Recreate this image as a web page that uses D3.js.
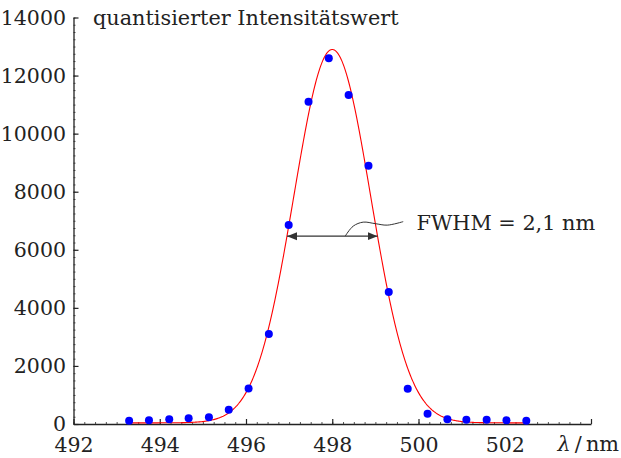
<!DOCTYPE html>
<html lang="de">
<head>
  <meta charset="UTF-8">
  <title>Spektrallinie</title>
  <script src="https://d3js.org/d3.v7.min.js"></script>
  <style>
    body { margin: 0; background: #fff; }
    svg text { font-family: "DejaVu Serif", serif; fill: #222; }
  </style>
</head>
<body>
  <div id="chart"></div>
  <script>
    // measured points (wavelength in nm, quantised intensity)
    const wavelengths = [493.29, 493.75, 494.22, 494.67, 495.14, 495.60, 496.06, 496.53, 496.99, 497.45, 497.92,
                         498.38, 498.84, 499.31, 499.75, 500.21, 500.67, 501.11, 501.58, 502.04, 502.50];
    const intensities = [110, 125, 160, 195, 230, 490, 1220, 3100, 6850, 11100, 12600,
                         11330, 8890, 4550, 1210, 355, 160, 150, 150, 125, 115];

    // gaussian fit
    const fitCenter = 498.0;
    const fitAmp = 12860;
    const fitFwhm = 2.1;
    const fitOffset = 40;

    const xTicks = [492, 494, 496, 498, 500, 502, 504];
    const yTicks = [0, 2000, 4000, 6000, 8000, 10000, 12000, 14000];

    const width = 621, height = 458;

    const x = d3.scaleLinear().domain([492, 504]).range([73.5, 591]);
    const y = d3.scaleLinear().domain([0, 14000]).range([424, 17.5]);

    const svg = d3.select("#chart").append("svg")
        .attr("width", width)
        .attr("height", height);

    // minor ticks
    svg.append("g")
        .attr("transform", `translate(0,${y(0)})`)
        .call(d3.axisBottom(x).tickValues(d3.range(492, 504.01, 0.25)).tickSize(-2).tickFormat(""))
        .call(g => g.select(".domain").remove())
        .call(g => g.selectAll("line").attr("stroke", "#555"));
    svg.append("g")
        .attr("transform", `translate(${x(492)},0)`)
        .call(d3.axisLeft(y).tickValues(d3.range(0, 14001, 250)).tickSize(-2).tickFormat(""))
        .call(g => g.select(".domain").remove())
        .call(g => g.selectAll("line").attr("stroke", "#555"));

    // x axis
    svg.append("g")
        .attr("transform", `translate(0,${y(0)})`)
        .call(d3.axisBottom(x).tickValues(xTicks).tickSizeInner(-5).tickSizeOuter(0).tickPadding(13)
            .tickFormat(d => d === 504 ? "" : d))
        .call(g => g.select(".domain").attr("stroke", "#222").attr("stroke-width", 1.3))
        .call(g => g.selectAll("line").attr("stroke", "#222").attr("stroke-width", 1.2))
        .call(g => g.selectAll("text").attr("font-size", 20.5).attr("font-family", "DejaVu Serif").attr("fill", "#222"));

    // y axis
    svg.append("g")
        .attr("transform", `translate(${x(492)},0)`)
        .call(d3.axisLeft(y).tickValues(yTicks).tickSizeInner(-5).tickSizeOuter(0).tickPadding(7.5)
            .tickFormat(d3.format("d")))
        .call(g => g.select(".domain").attr("stroke", "#222").attr("stroke-width", 1.3))
        .call(g => g.selectAll("line").attr("stroke", "#222").attr("stroke-width", 1.2))
        .call(g => g.selectAll("text").attr("font-size", 20.5).attr("font-family", "DejaVu Serif").attr("fill", "#222"));

    // axis titles
    svg.append("text")
        .attr("x", 93).attr("y", 25)
        .attr("font-size", 20.8)
        .text("quantisierter Intensitätswert");

    const xl = svg.append("text")
        .attr("x", 619).attr("y", 451)
        .attr("text-anchor", "end")
        .attr("font-size", 20.8);
    xl.append("tspan").attr("font-style", "italic").text("λ");
    xl.append("tspan").text("\u2009/\u2009nm");

    // fit curve
    const sigma = fitFwhm / (2 * Math.sqrt(2 * Math.log(2)));
    const gauss = v => fitOffset + fitAmp * Math.exp(-((v - fitCenter) ** 2) / (2 * sigma * sigma));
    const curveX = d3.range(wavelengths[0], wavelengths[wavelengths.length - 1] + 0.001, 0.02);

    svg.append("path")
        .datum(curveX)
        .attr("fill", "none")
        .attr("stroke", "#ff0000")
        .attr("stroke-width", 1.1)
        .attr("d", d3.line().x(d => x(d)).y(d => y(gauss(d))));

    // points
    svg.append("g")
        .selectAll("circle")
        .data(wavelengths)
        .join("circle")
        .attr("cx", d => x(d))
        .attr("cy", (d, i) => y(intensities[i]))
        .attr("r", 4)
        .attr("fill", "#0000ff");

    // FWHM annotation
    const defs = svg.append("defs");
    defs.append("marker")
        .attr("id", "ah")
        .attr("viewBox", "0 0 10 10")
        .attr("refX", 10).attr("refY", 5)
        .attr("markerWidth", 10).attr("markerHeight", 10)
        .attr("markerUnits", "userSpaceOnUse")
        .attr("orient", "auto-start-reverse")
        .append("path")
        .attr("d", "M0,1 L10,5 L0,9 Z")
        .attr("fill", "#333");

    const hy = y(fitOffset + fitAmp / 2);
    const x1 = x(fitCenter - fitFwhm / 2), x2 = x(fitCenter + fitFwhm / 2);
    svg.append("line")
        .attr("x1", x1).attr("x2", x2)
        .attr("y1", hy).attr("y2", hy)
        .attr("stroke", "#333")
        .attr("stroke-width", 1.2)
        .attr("marker-start", "url(#ah)")
        .attr("marker-end", "url(#ah)");

    const sx = x(498.3);
    const leader = [[sx, hy], [sx + 8, hy - 10], [sx + 18, hy - 14], [sx + 30, hy - 12.5], [sx + 42, hy - 11], [sx + 58, hy - 14.5]];
    svg.append("path")
        .attr("d", d3.line().curve(d3.curveCatmullRom)(leader))
        .attr("fill", "none")
        .attr("stroke", "#333")
        .attr("stroke-width", 1);

    svg.append("text")
        .attr("x", 416.5).attr("y", 230)
        .attr("font-size", 20.8)
        .text("FWHM = 2,1 nm");
  </script>
</body>
</html>
